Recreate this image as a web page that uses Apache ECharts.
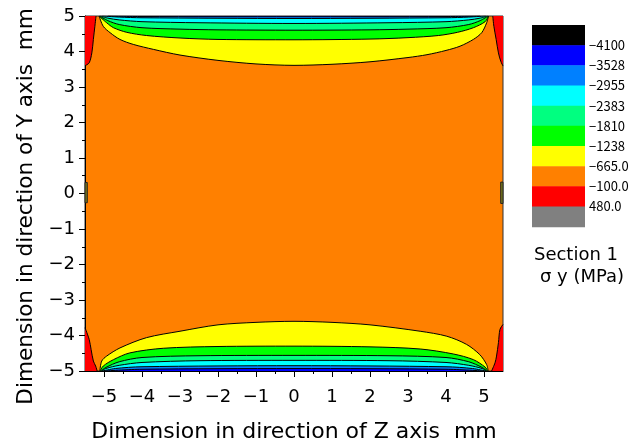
<!DOCTYPE html>
<html><head><meta charset="utf-8">
<script src="https://cdn.jsdelivr.net/npm/echarts@6/dist/echarts.min.js"></script>
<style>html,body{margin:0;padding:0;background:#fff}#c{width:630px;height:448px}</style>
</head><body><div id="c"></div>
<script>
const FONT = '"DejaVu Sans", "Noto Sans", sans-serif';
const LFONT = '"Noto Sans CJK JP", "Noto Sans", sans-serif';
const xTicks = [-5,-4,-3,-2,-1,0,1,2,3,4,5];
const xMinorTicks = [-4.5,-3.5,-2.5,-1.5,-0.5,0.5,1.5,2.5,3.5,4.5];
const legendLabels = ['\u22124100','\u22123528','\u22122955','\u22122383','\u22121810','\u22121238','\u2212665.0','\u2212100.0','480.0'];
const legendColors = ['#000000','#0000ff','#0080ff','#00ffff','#00ff80','#00ff00','#ffff00','#ff8000','#ff0000','#808080'];

// contour boundaries [z, y] (mm)
const topYellow = [[-5.13,5.0],[-5.02,4.71],[-4.84,4.53],[-4.58,4.34],[-4.23,4.2],[-3.7,4.06],[-3.0,3.9],[-2.0,3.75],[-1.0,3.65],[0,3.61],[1.0,3.64],[2.0,3.71],[3.0,3.83],[3.5,3.91],[4.0,4.03],[4.37,4.15],[4.72,4.34],[4.94,4.53],[5.07,4.81],[5.12,5.0]];
const topGreen = [[-5.13,5.0],[-4.93,4.81],[-4.75,4.67],[-4.4,4.54],[-3.88,4.45],[-3.0,4.38],[-2.0,4.34],[0,4.33],[2.0,4.35],[3.0,4.39],[3.8,4.45],[4.3,4.54],[4.72,4.67],[5.03,4.84],[5.12,5.0]];
const topSpring = [[-5.11,5.0],[-4.9,4.87],[-4.6,4.76],[-4.0,4.67],[-3.0,4.63],[-2.0,4.61],[0,4.6],[2.0,4.61],[3.0,4.63],[4.0,4.67],[4.6,4.76],[4.9,4.87],[5.11,5.0]];
const topCyan = [[-5.09,5.0],[-4.9,4.94],[-4.6,4.89],[-4.0,4.84],[-2.5,4.81],[0,4.79],[2.5,4.81],[4.0,4.84],[4.6,4.89],[4.9,4.94],[5.09,5.0]];
const topMidBlue = [[-5.05,5.0],[-4.6,4.97],[-4.0,4.95],[0,4.93],[4.0,4.95],[4.6,4.97],[5.05,5.0]];
const topBlue = [[-4.9,5.0],[-4.0,4.985],[0,4.98],[4.0,4.985],[4.9,5.0]];

const botYellow = [[-5.11,-5.0],[-5.06,-4.72],[-4.93,-4.58],[-4.58,-4.35],[-3.88,-4.06],[-3.0,-3.88],[-2.0,-3.7],[-1.0,-3.63],[0,-3.6],[1.0,-3.63],[2.0,-3.7],[3.32,-3.88],[4.02,-4.02],[4.54,-4.25],[4.89,-4.54],[5.07,-4.82],[5.11,-5.0]];
const botGreen = [[-5.1,-5.0],[-5.02,-4.86],[-4.75,-4.68],[-4.32,-4.49],[-3.44,-4.36],[-2.0,-4.31],[0,-4.3],[2.0,-4.32],[3.32,-4.38],[4.19,-4.52],[4.72,-4.68],[5.03,-4.89],[5.1,-5.0]];
const botSpring = [[-5.08,-5.0],[-4.95,-4.9],[-4.6,-4.74],[-4.0,-4.62],[-2.5,-4.57],[0,-4.56],[2.5,-4.57],[4.0,-4.62],[4.6,-4.74],[4.95,-4.9],[5.08,-5.0]];
const botCyan = [[-5.06,-5.0],[-4.95,-4.93],[-4.6,-4.84],[-4.0,-4.76],[-2.5,-4.71],[0,-4.70],[2.5,-4.71],[4.0,-4.76],[4.6,-4.84],[4.95,-4.93],[5.06,-5.0]];
const botMidBlue = [[-5.04,-5.0],[-4.7,-4.93],[-4.0,-4.88],[0,-4.85],[4.0,-4.88],[4.7,-4.93],[5.04,-5.0]];
const botBlue = [[-5.0,-5.0],[-4.0,-4.95],[0,-4.93],[4.0,-4.95],[5.0,-5.0]];

const redTL = [[-5.5,3.6],[-5.39,3.68],[-5.32,3.96],[-5.28,4.34],[-5.24,4.71],[-5.21,5.0]];
const redTR = [[5.23,5.0],[5.26,4.71],[5.32,4.34],[5.38,3.96],[5.44,3.73],[5.5,3.59]];
const redBL = [[-5.5,-3.78],[-5.39,-4.11],[-5.34,-4.39],[-5.28,-4.72],[-5.22,-4.86],[-5.18,-5.0]];
const redBR = [[5.2,-5.0],[5.29,-4.77],[5.33,-4.58],[5.38,-4.2],[5.42,-3.83],[5.5,-3.69]];

const edgePatches = [[-5.5,-0.26,-5.44,0.31],[5.44,-0.28,5.5,0.32]];

function band(data, color, origin) {
  return {type:'line', data:data, smooth:0.3, showSymbol:false, symbol:'none',
    lineStyle:{color:'#000', width:1}, areaStyle:{color:color, opacity:1, origin:origin},
    silent:true, animation:false, clip:true};
}
const numFmt = v => (v < 0 ? '\u2212' + Math.abs(v) : String(v));

const series = [
  band(topYellow,'#ffff00','end'), band(topGreen,'#00ff00','end'), band(topSpring,'#00ff80','end'),
  band(topCyan,'#00ffff','end'), band(topMidBlue,'#0080ff','end'), band(topBlue,'#0000ff','end'),
  band(botYellow,'#ffff00','start'), band(botGreen,'#00ff00','start'), band(botSpring,'#00ff80','start'),
  band(botCyan,'#00ffff','start'), band(botMidBlue,'#0080ff','start'), band(botBlue,'#0000ff','start'),
  band(redTL,'#ff0000','end'), band(redTR,'#ff0000','end'), band(redBL,'#ff0000','start'), band(redBR,'#ff0000','start'),
  {type:'custom', data:edgePatches, encode:{x:[0,2], y:[1,3]}, silent:true, animation:false,
   renderItem:(params, api) => {
     const p0 = api.coord([api.value(0), api.value(1)]);
     const p1 = api.coord([api.value(2), api.value(3)]);
     return {type:'rect', shape:{x:Math.min(p0[0],p1[0]), y:Math.min(p0[1],p1[1]), width:Math.abs(p1[0]-p0[0]), height:Math.abs(p1[1]-p0[1])},
       style:{fill:'#7d7d1c', stroke:'#222', lineWidth:1}};
   }}
];

const graphics = [];
const LX = 532, LY = 25, LW = 53, LH = 20.17;
legendColors.forEach((c, i) => {
  graphics.push({type:'rect', shape:{x:LX, y:LY + i*LH, width:LW, height:LH + 0.5}, style:{fill:c}, silent:true});
});
legendLabels.forEach((t, i) => {
  graphics.push({type:'text', x:589, y:LY + (i+1)*LH, style:{text:t, fill:'#000', font:'13px ' + LFONT, textVerticalAlign:'middle', textAlign:'left'}, silent:true});
});
graphics.push({type:'text', x:576, y:255, style:{text:'Section 1', fill:'#000', font:'18px ' + FONT, textAlign:'center', textVerticalAlign:'middle'}});
graphics.push({type:'text', x:582, y:277, style:{text:'\u03c3 y (MPa)', fill:'#000', font:'18px ' + FONT, textAlign:'center', textVerticalAlign:'middle'}});

const chart = echarts.init(document.getElementById('c'), null, {renderer:'canvas'});
chart.setOption({
  animation:false,
  backgroundColor:'#fff',
  grid:{left:85, right:127, top:16, bottom:77, show:true, backgroundColor:'#ff8000', borderColor:'#333', borderWidth:1, containLabel:false, outerBoundsMode:'none'},
  xAxis:[
    {type:'value', min:-5.5, max:5.5, position:'bottom',
     axisLine:{show:true, onZero:false, lineStyle:{color:'#000', width:1}},
     axisTick:{show:true, customValues:xTicks, length:6, lineStyle:{color:'#000'}},
     axisLabel:{customValues:xTicks, formatter:numFmt, fontSize:18, color:'#000', margin:17, fontFamily:FONT},
     splitLine:{show:false},
     name:'Dimension in direction of Z axis  mm', nameLocation:'middle', nameGap:50,
     nameTextStyle:{fontSize:22, color:'#000', fontFamily:FONT}},
    {type:'value', min:-5.5, max:5.5, position:'bottom',
     axisLine:{show:false, onZero:false},
     axisTick:{show:true, customValues:xMinorTicks, length:3, lineStyle:{color:'#000'}},
     axisLabel:{show:false}, splitLine:{show:false}}
  ],
  yAxis:{type:'value', min:-5, max:5, interval:1,
     axisLine:{show:true, onZero:false, lineStyle:{color:'#000', width:1}},
     axisTick:{show:true, length:6, lineStyle:{color:'#000'}},
     minorTick:{show:true, splitNumber:2, length:3, lineStyle:{color:'#000'}},
     axisLabel:{formatter:numFmt, fontSize:18, color:'#000', margin:10, fontFamily:FONT},
     splitLine:{show:false}, minorSplitLine:{show:false},
     name:'Dimension in direction of Y axis  mm', nameLocation:'middle', nameGap:44, nameRotate:90,
     nameTextStyle:{fontSize:21.6, color:'#000', fontFamily:FONT, padding:[0,26,0,0]}},
  series:series,
  graphic:graphics
});
</script>
</body></html>
